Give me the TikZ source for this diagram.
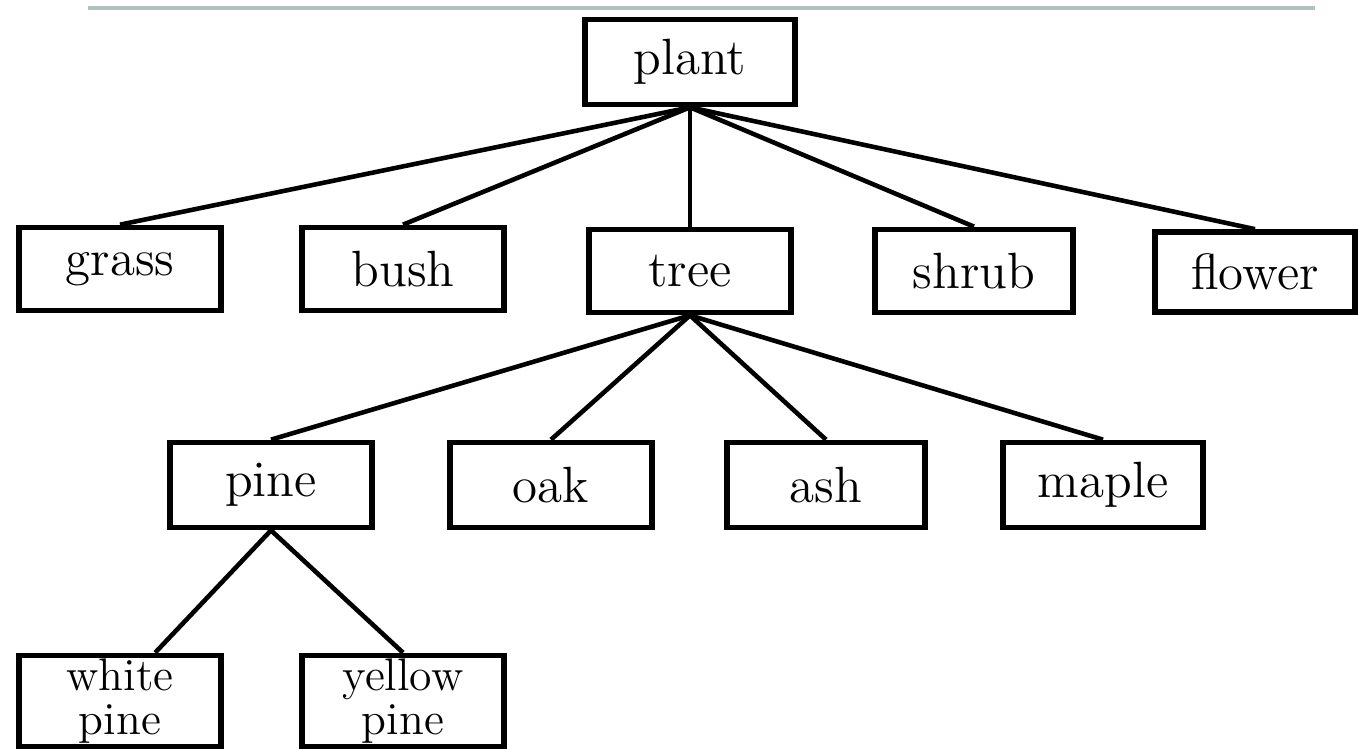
\documentclass[tikz,border=0pt]{standalone}
\usepackage{tikz}
\definecolor{rulegray}{RGB}{178,192,192}

\begin{document}
\begin{tikzpicture}[x=0.01cm,y=-0.01cm,
    box/.style={draw,line width=1.6pt,minimum width=2.02cm,minimum height=0.83cm,
      inner sep=0pt,align=center,font=\fontsize{14.5}{11}\selectfont}]
    \useasboundingbox (0,0) rectangle (1358,749);
    \clip (0,0) rectangle (1358,749);
    \draw[rulegray,line width=1.2pt] (88,8) -- (1315,8);
    % top
    \node[box,minimum width=2.1cm,minimum height=0.85cm] (plant) at (690,62) {plant};
    % second row
    \node[box] (grass) at (120,269) {grass};
    \node[box] (bush) at (403,269) {bush};
    \node[box] (tree) at (690,271) {tree};
    \node[box,minimum width=1.98cm] (shrub) at (974,271) {shrub};
    \node[box,minimum width=2.0cm,minimum height=0.8cm] (flower) at (1255,272) {flower};
    % trees
    \node[box,minimum height=0.85cm] (pine) at (271,485) {pine};
    \node[box,minimum height=0.85cm] (oak) at (551,485) {oak};
    \node[box,minimum width=1.98cm,minimum height=0.85cm] (ash) at (826,485) {ash};
    \node[box,minimum width=2.0cm,minimum height=0.85cm] (maple) at (1103,485) {maple};
    % pines
    \node[box,minimum height=0.91cm,font=\fontsize{13}{12.5}\selectfont] (white) at (120,701) {white\\pine};
    \node[box,minimum height=0.91cm,font=\fontsize{13}{12.5}\selectfont] (yellow) at (403,701) {yellow\\pine};
    % lines
    \foreach \n in {grass,bush,tree,shrub,flower}
      \draw[line width=1.3pt] (plant.south) -- (\n.north);
    \foreach \n in {pine,oak,ash,maple}
      \draw[line width=1.3pt] (tree.south) -- (\n.north);
    \draw[line width=1.3pt] (pine.south) -- ([xshift=10]white.north);
    \draw[line width=1.3pt] (pine.south) -- (yellow.north);
  \end{tikzpicture}
\end{document}
